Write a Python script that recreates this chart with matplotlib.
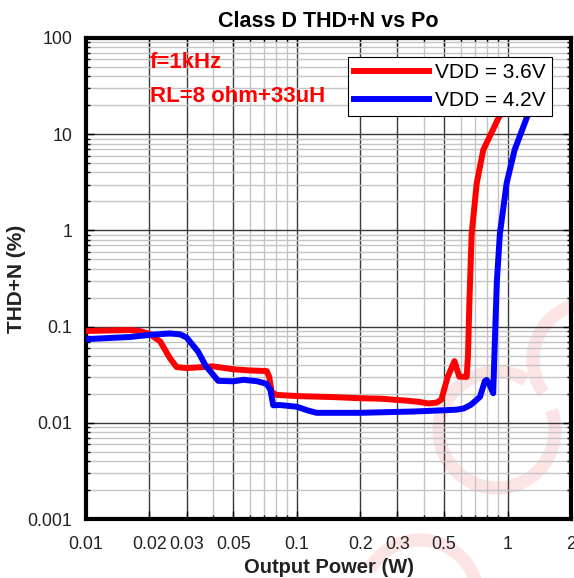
import numpy as np
import matplotlib
matplotlib.use('Agg')
from matplotlib import pyplot as plt
from matplotlib.patches import Arc

plt.rcParams['font.family'] = ['Liberation Sans', 'DejaVu Sans']

# 3.6V curve
p_36 = [0.01, 0.0125, 0.0162, 0.018, 0.02, 0.0225, 0.025, 0.0269, 0.03, 0.04, 0.05, 0.06, 0.072, 0.074, 0.076,
		0.08, 0.104, 0.15, 0.2, 0.25, 0.332, 0.38, 0.42, 0.46, 0.485, 0.52, 0.56, 0.59, 0.64, 0.649, 0.66,
		0.676, 0.714, 0.767, 0.904, 1.0]
thd_36 = [0.09, 0.091, 0.092, 0.09, 0.084, 0.07, 0.047, 0.038, 0.037, 0.0386, 0.036, 0.035, 0.0345, 0.03, 0.021,
		0.0195, 0.0189, 0.0185, 0.018, 0.0178, 0.017, 0.0165, 0.0159, 0.0162, 0.0174, 0.03, 0.0437, 0.0302, 0.030, 0.05, 0.2,
		0.93, 3.09, 6.86, 14.6, 22]

# 4.2V curve
p_42 = [0.01, 0.0162, 0.02, 0.025, 0.028, 0.03, 0.034, 0.037, 0.0424, 0.05, 0.056, 0.065, 0.072, 0.075, 0.0773,
		0.083, 0.1, 0.112, 0.124, 0.2, 0.357, 0.5, 0.573, 0.62, 0.67, 0.74, 0.78, 0.796, 0.82, 0.855, 0.875,
		0.89, 0.92, 0.99, 1.08, 1.23, 1.35]
thd_42 = [0.074, 0.078, 0.082, 0.085, 0.083, 0.077, 0.055, 0.039, 0.0273, 0.027, 0.028, 0.027, 0.0254, 0.022, 0.0152,
		0.0153, 0.0147, 0.0135, 0.0127, 0.0127, 0.0131, 0.0135, 0.0137, 0.0141, 0.0154, 0.0186, 0.027, 0.0279, 0.025, 0.0203, 0.1,
		0.3, 0.93, 3.09, 6.86, 14.6, 25]

x_ticks = [0.01, 0.02, 0.03, 0.05, 0.1, 0.2, 0.3, 0.5, 1, 2]
x_labels = ['0.01', '0.02', '0.03', '0.05', '0.1', '0.2', '0.3', '0.5', '1', '2']
y_ticks = [0.001, 0.01, 0.1, 1, 10, 100]
y_labels = ['0.001', '0.01', '0.1', '1', '10', '100']

W, H = 574, 578
fig = plt.figure(figsize=(W / 100, H / 100), dpi=100)

# faint watermark behind everything
bg = fig.add_axes([0, 0, 1, 1], zorder=0)
bg.set_xlim(0, W)
bg.set_ylim(0, H)
bg.axis('off')
wm = '#fde4e4'
bg.add_patch(Arc((497, H - 430), 116, 116, theta1=60, theta2=380, color=wm, lw=9.5))
bg.add_patch(Arc((590, H - 360), 114, 114, theta1=80, theta2=215, color=wm, lw=9.5))
bg.add_patch(Arc((420, H - 598), 116, 116, theta1=0, theta2=150, color=wm, lw=9.5))

ax = fig.add_axes([86 / W, 1 - 519 / H, 485 / W, 481 / H], zorder=1)
ax.set_facecolor('none')
ax.set_xscale('log')
ax.set_yscale('log')
ax.set_xlim(0.01, 2)
ax.set_ylim(0.001, 100)

ax.plot(p_36, thd_36, color='#ff0000', lw=4.3, label='VDD = 3.6V', zorder=3)
ax.plot(p_42, thd_42, color='#0000ff', lw=4.3, label='VDD = 4.2V', zorder=3)

ax.set_xticks(x_ticks)
ax.set_xticklabels(x_labels)
x_minor = [0.04, 0.06, 0.07, 0.08, 0.09, 0.4, 0.6, 0.7, 0.8, 0.9]
ax.set_xticks(x_minor, minor=True)
ax.set_xticklabels([], minor=True)
ax.set_yticks(y_ticks)
ax.set_yticklabels(y_labels)
y_minor = [m * 10.0 ** k for k in range(-3, 2) for m in range(2, 10)]
ax.set_yticks(y_minor, minor=True)
ax.set_yticklabels([], minor=True)

ax.grid(True, which='major', color='#3a3a3a', lw=1.0)
ax.grid(True, which='minor', color='#c4c4c4', lw=1.0)
ax.tick_params(which='both', direction='in', top=True, right=True, labelsize=12.8, colors='black')
ax.tick_params(which='major', length=6, width=1)
ax.tick_params(which='minor', length=3, width=1)
ax.tick_params(axis='x', pad=12)
ax.tick_params(axis='y', pad=10)
for lab in ax.get_xticklabels() + ax.get_yticklabels():
	lab.set_color('#222222')
for s in ax.spines.values():
	s.set_linewidth(3)

ax.set_title('Class D THD+N vs Po', fontsize=15.5, fontweight='bold', pad=8)
ax.set_xlabel('Output Power (W)', fontsize=14.5, fontweight='bold', color='#222222', labelpad=4)
ax.set_ylabel('THD+N (%)', fontsize=15, fontweight='bold', color='#222222')
ax.yaxis.set_label_coords(-0.124, 0.5)

ax.text(0.132, 0.950, 'f=1kHz', transform=ax.transAxes, color='#ff0000', fontsize=16, fontweight='bold',
		va='center', ha='left', zorder=4)
ax.text(0.132, 0.879, 'RL=8 ohm+33uH', transform=ax.transAxes, color='#ff0000', fontsize=16, fontweight='bold',
		va='center', ha='left', zorder=4)

leg = ax.legend(loc='upper right', bbox_to_anchor=(0.961, 0.960), borderaxespad=0, fontsize=15,
		fancybox=False, framealpha=1, edgecolor='black', handlelength=3.6, handletextpad=0.3,
		borderpad=0.3, labelspacing=0.4)
leg.get_frame().set_linewidth(0.8)
leg.set_zorder(5)

fig.savefig('out.png', dpi=100)
